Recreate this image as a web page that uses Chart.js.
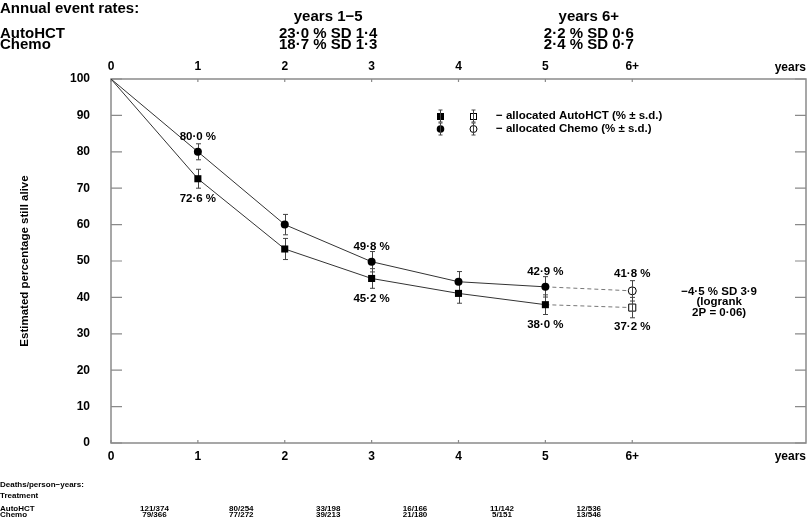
<!DOCTYPE html>
<html>
<head>
<meta charset="utf-8">
<script src="https://cdn.jsdelivr.net/npm/chart.js@4"></script>
<style>
  html, body { margin: 0; padding: 0; background: #fff; }
</style>
</head>
<body>
<canvas id="canvas" width="812" height="520"></canvas>
<script>
const FONT = '"Liberation Sans", Arial, Helvetica, sans-serif';

// survival estimates (% alive) by year
const years = [0, 1, 2, 3, 4, 5];
const autoHCT = [100, 72.6, 53.3, 45.2, 41.1, 38.0];
const autoHCTsd = [0, 2.6, 2.9, 2.7, 2.7, 2.7];
const chemo = [100, 80.0, 60.0, 49.8, 44.3, 42.9];
const chemoSD = [0, 2.2, 2.8, 2.8, 2.8, 2.8];
const autoHCTlabels = ['', '72·6 %', '', '45·2 %', '', '38·0 %'];
const chemoLabels = ['', '80·0 %', '', '49·8 %', '', '42·9 %'];

// year 6+ (open symbols, dashed)
const lateYears = [5, 6];
const autoHCTlate = [38.0, 37.2];
const autoHCTlateSD = [0, 2.8];
const chemoLate = [42.9, 41.8];
const chemoLateSD = [0, 2.8];
const autoHCTlateLabels = ['', '37·2 %'];
const chemoLateLabels = ['', '41·8 %'];

// axes
const yearTicks = [0, 1, 2, 3, 4, 5, 6];
const yearTickLabels = ['0', '1', '2', '3', '4', '5', '6+'];

// annual event rates header
const ratePeriods = ['years 1−5', 'years 6+'];
const ratePeriodMid = [2.5, 5.5];
const ratesAutoHCT = ['23·0 % SD 1·4', '2·2 % SD 0·6'];
const ratesChemo = ['18·7 % SD 1·3', '2·4 % SD 0·7'];

// deaths / person-years table
const periodMid = [0.5, 1.5, 2.5, 3.5, 4.5, 5.5];
const deathsAutoHCT = ['121/374', '80/254', '33/198', '16/166', '11/142', '12/536'];
const deathsChemo = ['79/366', '77/272', '39/213', '21/180', '5/151', '13/546'];

const logrankText = ['−4·5 % SD 3·9', '(logrank', '2P = 0·06)'];

const toPoints = (xs, ys) => xs.map((v, i) => ({ x: v, y: ys[i] }));

Chart.defaults.font.family = FONT;
Chart.defaults.color = '#000';

const bold = (size) => `bold ${size}px ${FONT}`;

const drawErrorBars = (chart, onTop) => {
    const { ctx, scales: { x, y } } = chart;
    ctx.save();
    ctx.strokeStyle = '#444';
    ctx.lineWidth = 1;
    chart.data.datasets.forEach((ds) => {
        if (!ds.sd || !!ds.sdOnTop !== onTop) return;
        ds.data.forEach((p, j) => {
            const sd = ds.sd[j];
            if (!sd) return;
            const px = Math.round(x.getPixelForValue(p.x)) + 0.5;
            const y1 = y.getPixelForValue(p.y - sd);
            const y2 = y.getPixelForValue(p.y + sd);
            ctx.beginPath();
            ctx.moveTo(px, y1); ctx.lineTo(px, y2);
            ctx.moveTo(px - 2.5, y1); ctx.lineTo(px + 2.5, y1);
            ctx.moveTo(px - 2.5, y2); ctx.lineTo(px + 2.5, y2);
            ctx.stroke();
        });
    });
    ctx.restore();
};

const chartDecor = {
    id: 'chartDecor',
    beforeDatasetsDraw(chart) {
        const { ctx, chartArea: a, scales: { x, y } } = chart;
        ctx.save();
        ctx.strokeStyle = '#8a8a8a';
        ctx.lineWidth = 1.5;
        ctx.strokeRect(a.left, a.top, a.right - a.left, a.bottom - a.top);
        ctx.lineWidth = 1.2;
        ctx.beginPath();
        y.ticks.forEach((t) => {
            const py = y.getPixelForValue(t.value);
            ctx.moveTo(a.left, py); ctx.lineTo(a.left + 11, py);
            ctx.moveTo(a.right, py); ctx.lineTo(a.right - 11, py);
        });
        yearTicks.forEach((v) => {
            const px = x.getPixelForValue(v);
            ctx.moveTo(px, a.top); ctx.lineTo(px, a.top + 3);
            ctx.moveTo(px, a.bottom); ctx.lineTo(px, a.bottom - 3);
        });
        ctx.stroke();
        ctx.restore();
        drawErrorBars(chart, false);
    },
    afterDatasetsDraw(chart) {
        drawErrorBars(chart, true);
        const { ctx, scales: { x, y } } = chart;
        ctx.save();
        ctx.font = bold(11.5);
        ctx.fillStyle = '#000';
        ctx.textAlign = 'center';
        ctx.textBaseline = 'middle';
        chart.data.datasets.forEach((ds) => {
            if (!ds.pointLabels) return;
            ds.data.forEach((p, j) => {
                const txt = ds.pointLabels[j];
                if (!txt) return;
                ctx.fillText(txt, x.getPixelForValue(p.x), y.getPixelForValue(p.y) + ds.labelOffset);
            });
        });
        ctx.restore();
    },
    afterDraw(chart) {
        const { ctx, chartArea: a, scales: { x, y } } = chart;
        ctx.save();
        ctx.fillStyle = '#000';

        // "years" at the end of both x axes
        ctx.font = bold(12);
        ctx.textAlign = 'right';
        ctx.textBaseline = 'middle';
        ctx.fillText('years', a.right, 68);
        ctx.fillText('years', a.right, 457);

        // header: annual event rates
        ctx.textBaseline = 'alphabetic';
        ctx.textAlign = 'left';
        ctx.font = bold(15);
        ctx.fillText('Annual event rates:', 0, 13);
        ctx.fillText('AutoHCT', 0, 38);
        ctx.fillText('Chemo', 0, 49);
        ctx.textAlign = 'center';
        ratePeriods.forEach((txt, i) => {
            const px = x.getPixelForValue(ratePeriodMid[i]);
            ctx.fillText(txt, px, 21);
            ctx.fillText(ratesAutoHCT[i], px, 38);
            ctx.fillText(ratesChemo[i], px, 49);
        });

        // legend
        const lx1 = 440, lx2 = 473, ly1 = 116, ly2 = 129;
        ctx.strokeStyle = '#000';
        ctx.lineWidth = 1;
        ctx.fillRect(lx1 - 3, ly1 - 3, 7, 7);
        ctx.beginPath();
        ctx.arc(lx1 + 0.5, ly2, 3.8, 0, Math.PI * 2);
        ctx.fill();
        ctx.fillStyle = '#fff';
        ctx.fillRect(lx2 - 3, ly1 - 3, 7, 7);
        ctx.strokeRect(lx2 - 3 + 0.5, ly1 - 3 + 0.5, 6, 6);
        ctx.beginPath();
        ctx.arc(lx2 + 0.5, ly2, 3.5, 0, Math.PI * 2);
        ctx.stroke();
        ctx.strokeStyle = '#444';
        ctx.beginPath();
        [lx1, lx2].forEach((lx) => {
            [ly1, ly2].forEach((ly) => {
                ctx.moveTo(lx + 0.5, ly - 6); ctx.lineTo(lx + 0.5, ly + 6);
                ctx.moveTo(lx - 1.5, ly - 6); ctx.lineTo(lx + 2.5, ly - 6);
                ctx.moveTo(lx - 1.5, ly + 6); ctx.lineTo(lx + 2.5, ly + 6);
            });
        });
        ctx.stroke();
        ctx.fillStyle = '#000';
        ctx.font = bold(11.5);
        ctx.textAlign = 'left';
        ctx.textBaseline = 'middle';
        ctx.fillText('− allocated AutoHCT (% ± s.d.)', 496, ly1);
        ctx.fillText('− allocated Chemo (% ± s.d.)', 496, ly2);

        // logrank note
        ctx.textAlign = 'center';
        const mid = y.getPixelForValue((autoHCTlate[1] + chemoLate[1]) / 2);
        const nx = x.getPixelForValue(7);
        [-7, 3, 14].forEach((off, i) => ctx.fillText(logrankText[i], nx, mid + off));

        // deaths / person-years table
        ctx.font = bold(8);
        ctx.textAlign = 'left';
        ctx.fillText('Deaths/person−years:', 0, 485);
        ctx.fillText('Treatment', 0, 496);
        ctx.fillText('AutoHCT', 0, 509);
        ctx.fillText('Chemo', 0, 515);
        ctx.textAlign = 'center';
        periodMid.forEach((v, i) => {
            const px = x.getPixelForValue(v);
            ctx.fillText(deathsAutoHCT[i], px, 509);
            ctx.fillText(deathsChemo[i], px, 515);
        });
        ctx.restore();
    }
};

const xAxis = (position, height, padding) => ({
    type: 'linear',
    position: position,
    min: 0,
    max: 8,
    grid: { display: false, drawTicks: false },
    border: { display: false },
    afterBuildTicks: (scale) => { scale.ticks = yearTicks.map((v) => ({ value: v })); },
    afterFit: (scale) => { scale.height = height; },
    ticks: {
        autoSkip: false,
        maxRotation: 0,
        padding: padding,
        font: { size: 12, weight: 'bold' },
        callback: (value) => yearTickLabels[yearTicks.indexOf(value)]
    }
});

const ctx = document.getElementById('canvas').getContext('2d');
window.survivalChart = new Chart(ctx, {
    type: 'line',
    data: {
        datasets: [{
            label: 'AutoHCT',
            data: toPoints(years, autoHCT),
            sd: autoHCTsd,
            pointLabels: autoHCTlabels,
            labelOffset: 20,
            borderColor: '#333',
            borderWidth: 1,
            pointStyle: 'rect',
            pointRadius: years.map((v) => v === 0 ? 0 : 5),
            pointBackgroundColor: '#000',
            pointBorderWidth: 0
        }, {
            label: 'Chemo',
            data: toPoints(years, chemo),
            sd: chemoSD,
            pointLabels: chemoLabels,
            labelOffset: -15,
            borderColor: '#333',
            borderWidth: 1,
            pointStyle: 'circle',
            pointRadius: years.map((v) => v === 0 ? 0 : 4),
            pointBackgroundColor: '#000',
            pointBorderWidth: 0
        }, {
            label: 'AutoHCT 6+',
            data: toPoints(lateYears, autoHCTlate),
            sd: autoHCTlateSD,
            sdOnTop: true,
            pointLabels: autoHCTlateLabels,
            labelOffset: 19,
            borderColor: '#777',
            borderWidth: 1,
            borderDash: [4, 3],
            pointStyle: 'rect',
            pointRadius: [0, 5],
            pointBackgroundColor: '#fff',
            pointBorderColor: '#000',
            pointBorderWidth: 1
        }, {
            label: 'Chemo 6+',
            data: toPoints(lateYears, chemoLate),
            sd: chemoLateSD,
            sdOnTop: true,
            pointLabels: chemoLateLabels,
            labelOffset: -17,
            borderColor: '#777',
            borderWidth: 1,
            borderDash: [4, 3],
            pointStyle: 'circle',
            pointRadius: [0, 4],
            pointBackgroundColor: '#fff',
            pointBorderColor: '#000',
            pointBorderWidth: 1
        }]
    },
    options: {
        responsive: false,
        devicePixelRatio: 1,
        animation: false,
        layout: { padding: { left: 0, right: 3, top: 0, bottom: 0 } },
        plugins: {
            legend: { display: false },
            tooltip: { enabled: false }
        },
        scales: {
            x: xAxis('bottom', 77, 6),
            x2: xAxis('top', 79, 5),
            y: {
                type: 'linear',
                position: 'left',
                min: 0,
                max: 100,
                grid: { display: false, drawTicks: false },
                border: { display: false },
                afterFit: (scale) => { scale.width = 111; },
                title: {
                    display: true,
                    text: 'Estimated percentage still alive',
                    font: { size: 11.5, weight: 'bold' },
                    padding: { top: 18, bottom: 0 }
                },
                ticks: {
                    stepSize: 10,
                    padding: 21,
                    font: { size: 12, weight: 'bold' }
                }
            }
        }
    },
    plugins: [chartDecor]
});
</script>
</body>
</html>
